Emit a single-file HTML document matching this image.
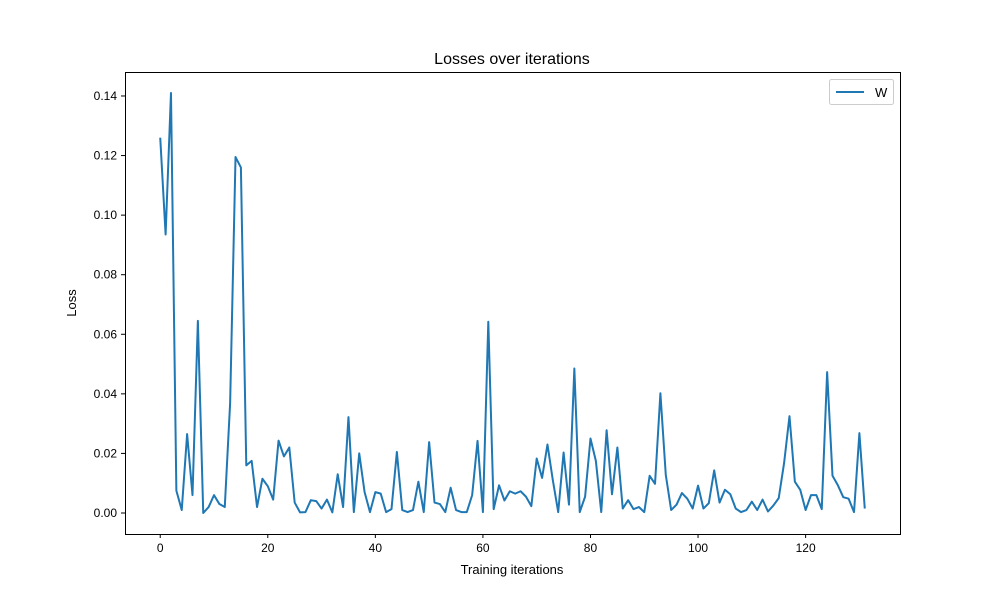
<!DOCTYPE html>
<html><head><meta charset="utf-8"><style>
html,body{margin:0;padding:0;background:#fff;}
svg{display:block;font-family:"Liberation Sans","DejaVu Sans",sans-serif;}
</style></head><body>
<svg id="chart" width="1000" height="600">
<rect width="1000" height="600" fill="#fff"/>
<text x="512" y="64" text-anchor="middle" font-size="16">Losses over iterations</text>
<text x="512" y="574" text-anchor="middle" font-size="13">Training iterations</text>
<text transform="translate(76,303) rotate(-90)" text-anchor="middle" font-size="13">Loss</text>
<g id="ticks"></g>
<path id="line" fill="none" stroke="#1f77b4" stroke-width="2" stroke-linejoin="round"/>
<rect x="125.5" y="72.5" width="775" height="462" fill="none" stroke="#000" stroke-width="1"/>
<g>
<rect x="829.5" y="79.5" width="64" height="25" rx="2" fill="#fff" stroke="#ccc"/>
<line x1="836" y1="92" x2="864" y2="92" stroke="#1f77b4" stroke-width="2"/>
<text x="875" y="97" font-size="13">W</text>
</g>
</svg>
<script>
const lossValues = [0.126,0.0935,0.141,0.0075,0.001,0.0265,0.006,0.0645,0.0,0.002,
0.006,0.003,0.002,0.037,0.1195,0.116,0.016,0.0175,0.002,0.0115,
0.009,0.0045,0.0243,0.019,0.022,0.0035,0.0002,0.0003,0.0043,0.004,
0.0015,0.0045,0.0002,0.013,0.002,0.0322,0.0003,0.020,0.007,0.0003,
0.007,0.0065,0.0003,0.0013,0.0205,0.001,0.0003,0.001,0.0105,0.0003,
0.0238,0.0035,0.003,0.0003,0.0085,0.001,0.0003,0.0003,0.006,0.0242,
0.0003,0.0642,0.0013,0.0093,0.0042,0.0073,0.0065,0.0073,0.0055,0.0023,
0.0183,0.0118,0.023,0.011,0.0003,0.0203,0.0028,0.0485,0.0003,0.0055,
0.025,0.0175,0.0003,0.0278,0.0063,0.022,0.0015,0.0043,0.0013,0.002,
0.0003,0.0125,0.0098,0.0402,0.0128,0.001,0.0028,0.0067,0.0048,0.0015,
0.0092,0.0015,0.0033,0.0143,0.0035,0.0078,0.0063,0.0015,0.0003,0.001,
0.0038,0.001,0.0045,0.0005,0.0025,0.005,0.0168,0.0325,0.0105,0.0078,
0.001,0.006,0.006,0.0013,0.0473,0.0125,0.0093,0.0053,0.0048,0.0003,
0.0268,0.0015];
const xTicks = [0,20,40,60,80,100,120];
const yTicks = [0,0.02,0.04,0.06,0.08,0.10,0.12,0.14];
const yTickLabels = ["0.00","0.02","0.04","0.06","0.08","0.10","0.12","0.14"];

const L=125,R=900,T=72,B=534;
const n=lossValues.length;
const xmin=-(n-1)*0.05, xmax=(n-1)*1.05;
const ymaxD=Math.max(...lossValues), yminD=Math.min(...lossValues);
const pad=(ymaxD-yminD)*0.05;
const ymin=yminD-pad, ymax=ymaxD+pad;
const xs=v=>L+(v-xmin)/(xmax-xmin)*(R-L);
const ys=v=>B-(v-ymin)/(ymax-ymin)*(B-T);

const NS="http://www.w3.org/2000/svg";
const g=document.getElementById('ticks');
xTicks.forEach(t=>{
  const x=xs(t);
  const l=document.createElementNS(NS,'line');
  l.setAttribute('x1',x);l.setAttribute('x2',x);l.setAttribute('y1',B);l.setAttribute('y2',B+4);
  l.setAttribute('stroke','#000');
  
  
  g.appendChild(l);
  const tx=document.createElementNS(NS,'text');
  tx.setAttribute('x',x);tx.setAttribute('y',B+18);tx.setAttribute('text-anchor','middle');tx.setAttribute('font-size','12');
  tx.textContent=t;
  
  
  g.appendChild(tx);
});
yTicks.forEach((t,i)=>{
  const y=ys(t);
  const l=document.createElementNS(NS,'line');
  l.setAttribute('x1',L-4);l.setAttribute('x2',L);l.setAttribute('y1',y);l.setAttribute('y2',y);
  l.setAttribute('stroke','#000');
  
  
  g.appendChild(l);
  const tx=document.createElementNS(NS,'text');
  tx.setAttribute('x',L-8);tx.setAttribute('y',y+4);tx.setAttribute('text-anchor','end');tx.setAttribute('font-size','12');
  tx.textContent=yTickLabels[i];
  
  
  g.appendChild(tx);
});
document.getElementById('line').setAttribute('d',lossValues.map((v,i)=>(i?'L':'M')+xs(i).toFixed(2)+' '+ys(v).toFixed(2)).join(' '));
</script>
</body></html>
